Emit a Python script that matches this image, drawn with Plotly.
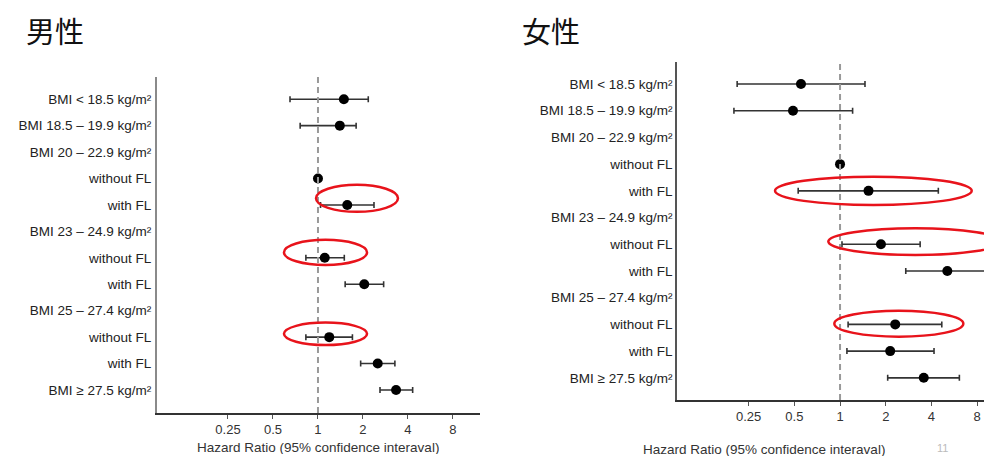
import plotly.graph_objects as go

# The page body adds an 8px margin, so the figure is 8px smaller and every
# reference pixel position is shifted by 8px.
OFF = 8
W, H = 992 - OFF, 456 - OFF


def px(x):
    return (x - OFF) / W


def py(y):
    return 1 - (y - OFF) / H


row_labels = [
    "BMI < 18.5 kg/m²", "BMI 18.5 – 19.9 kg/m²", "BMI 20 – 22.9 kg/m²",
    "without FL", "with FL", "BMI 23 – 24.9 kg/m²", "without FL", "with FL",
    "BMI 25 – 27.4 kg/m²", "without FL", "with FL", "BMI ≥ 27.5 kg/m²",
]

# Men (男性): hazard ratio, lower CI, upper CI (None = header row)
men_hr = [1.49, 1.40, None, 1.00, 1.57, None, 1.11, 2.04, None, 1.19, 2.51, 3.33]
men_lo = [0.65, 0.76, None, 1.00, 1.04, None, 0.83, 1.52, None, 0.83, 1.93, 2.60]
men_hi = [2.17, 1.80, None, 1.00, 2.37, None, 1.50, 2.75, None, 1.70, 3.27, 4.30]

# Women (女性)
women_hr = [0.553, 0.49, None, 1.00, 1.54, None, 1.86, 5.09, None, 2.31, 2.14, 3.56]
women_lo = [0.21, 0.20, None, 1.00, 0.53, None, 1.03, 2.71, None, 1.13, 1.11, 2.06]
women_hi = [1.46, 1.21, None, 1.00, 4.44, None, 3.37, 9.63, None, 4.68, 4.16, 6.11]

tick_vals = [0.25, 0.5, 1, 2, 4, 8]
tick_text = ["0.25", "0.5", "1", "2", "4", "8"]

# highlight ellipses: (x_low, x_high, row_top, row_bottom)
men_ellipses = [(0.97, 3.43, 3.24, 4.26), (0.592, 2.13, 5.32, 6.27), (0.592, 2.13, 8.45, 9.30)]
women_ellipses = [(0.373, 7.37, 3.47, 4.53), (0.837, 11.67, 5.40, 6.40), (0.917, 6.49, 8.49, 9.46)]

FONT = "Liberation Sans, Arial, Helvetica, sans-serif"
CJK = "Noto Sans CJK JP"

fig = go.Figure()


def add_panel(hr, lo, hi, xa, ya):
    ys, xs, ep, em = [], [], [], []
    for i, (h, l, u) in enumerate(zip(hr, lo, hi)):
        if h is None:
            continue
        ys.append(i)
        xs.append(h)
        ep.append(u - h)
        em.append(h - l)
    fig.add_trace(go.Scatter(
        x=xs, y=ys, mode="markers", xaxis=xa, yaxis=ya,
        marker=dict(color="black", size=10),
        error_x=dict(type="data", array=ep, arrayminus=em, symmetric=False,
                     color="#333333", thickness=1.6, width=3),
        showlegend=False, hoverinfo="skip",
    ))


add_panel(men_hr, men_lo, men_hi, "x", "y")
add_panel(women_hr, women_lo, women_hi, "x2", "y2")

common_x = dict(type="log", tickvals=tick_vals, ticktext=tick_text,
                showgrid=False, zeroline=False, showline=True,
                linecolor="#333333", linewidth=1.5, ticks="outside",
                ticklen=4, tickcolor="#555555", tickwidth=1,
                tickfont=dict(family=FONT, size=13, color="#333333"))
common_y = dict(tickvals=list(range(len(row_labels))), ticktext=row_labels,
                showgrid=False, zeroline=False, showline=True, ticks="",
                tickfont=dict(family=FONT, size=13.5, color="#222222"))

fig.update_layout(
    width=W, height=H,
    margin=dict(l=0, r=0, t=0, b=0),
    paper_bgcolor="white", plot_bgcolor="white",
    xaxis=dict(common_x, domain=[px(157), px(480)], range=[-1.077, 1.084], anchor="y"),
    yaxis=dict(common_y, domain=[py(413), py(77)], range=[11.87, -0.84], anchor="x",
               linecolor="#8a8a8a", linewidth=2, ticklabelstandoff=1),
    xaxis2=dict(common_x, domain=[px(677), 1.0], range=[-1.074, 1.001], anchor="y2"),
    yaxis2=dict(common_y, domain=[py(400), py(61.7)], range=[11.83, -0.835], anchor="x2",
                linecolor="#555555", linewidth=1.5, ticklabelstandoff=0),
)

shapes = []
for xa, ya in (("x", "y"), ("x2", "y2")):
    shapes.append(dict(type="line", xref=xa, yref=ya + " domain", x0=1, x1=1, y0=0, y1=1,
                       line=dict(color="#999999", width=2, dash="6px,4px")))
for xa, ya, ells in (("x", "y", men_ellipses), ("x2", "y2", women_ellipses)):
    for (a, b, t, bt) in ells:
        shapes.append(dict(type="circle", xref=xa, yref=ya, x0=a, x1=b, y0=t, y1=bt,
                           line=dict(color="#e8131b", width=2.5)))
fig.update_layout(shapes=shapes)

ann = [
    dict(text="男性", x=px(24), y=py(30), xanchor="left", yanchor="middle",
         font=dict(family=CJK, size=29, color="#111111")),
    dict(text="女性", x=px(520), y=py(30), xanchor="left", yanchor="middle",
         font=dict(family=CJK, size=29, color="#111111")),
    dict(text="Hazard Ratio (95% confidence interaval)", x=px(318), y=0.0,
         xanchor="center", yanchor="bottom", height=14, valign="middle",
         font=dict(family=FONT, size=13.5, color="#333333")),
    dict(text="Hazard Ratio (95% confidence interaval)", x=px(764), y=py(449),
         xanchor="center", yanchor="middle", height=14, valign="middle",
         font=dict(family=FONT, size=13.5, color="#333333")),
    dict(text="11", x=px(942), y=py(448), xanchor="center", yanchor="middle",
         font=dict(family=FONT, size=11, color="#bbbbbb")),
]
for a in ann:
    a.update(xref="paper", yref="paper", showarrow=False)
fig.update_layout(annotations=ann)

fig.write_html("out.html")
